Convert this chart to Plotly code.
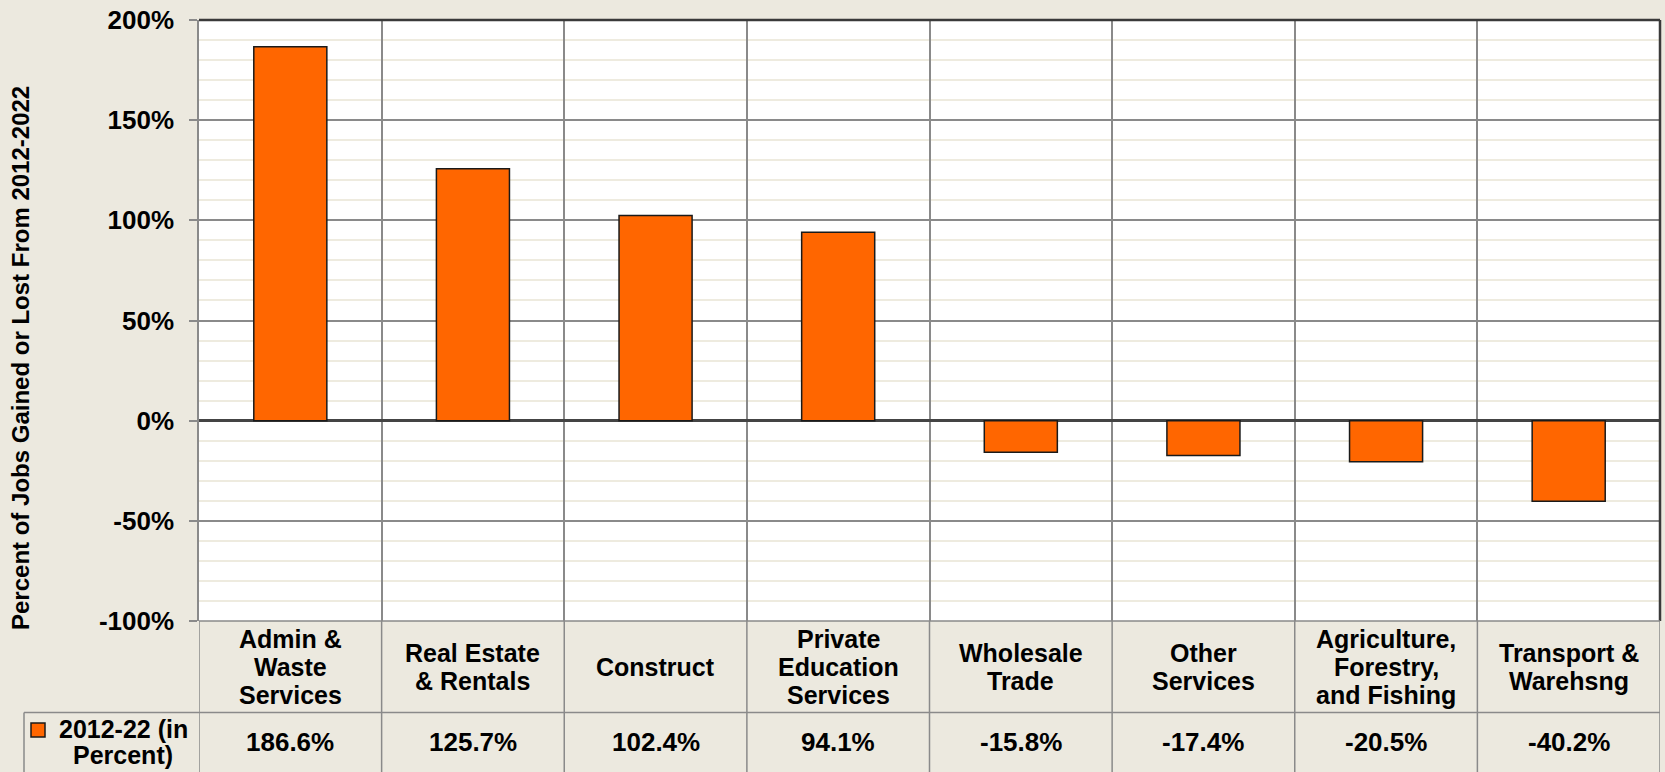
import plotly.graph_objects as go

categories = ["Admin &<br>Waste<br>Services", "Real Estate<br>& Rentals", "Construct",
              "Private<br>Education<br>Services", "Wholesale<br>Trade", "Other<br>Services",
              "Agriculture,<br>Forestry,<br>and Fishing", "Transport &<br>Warehsng"]
values = [186.6, 125.7, 102.4, 94.1, -15.8, -17.4, -20.5, -40.2]
series_name = "2012-22 (in<br>Percent)"
y_title = "Percent of Jobs Gained or Lost From 2012-2022"
y_ticks = [-100, -50, 0, 50, 100, 150, 200]

W, H = 1665, 772
L, R, T, B = 199, 1660, 20, 621
BG = "#ECE9DF"
FONT = "Arial, Liberation Sans, sans-serif"
ORANGE = "#FF6600"

def px(X):
    return (X - L) / (R - L)

def py(Y):
    return (B - Y) / (B - T)

fig = go.Figure()
fig.add_trace(go.Bar(x=list(range(len(categories))), y=values, name=series_name, width=0.4,
                     marker=dict(color=ORANGE, line=dict(color="#1a1a1a", width=1.5)),
                     showlegend=False))

fig.update_layout(
    width=W, height=H,
    margin=dict(l=L, r=W - R, t=T, b=H - B, pad=0),
    paper_bgcolor=BG, plot_bgcolor="white",
    font=dict(family=FONT, size=24, color="black"),
)
fig.update_xaxes(range=[-0.5, len(categories) - 0.5], tickmode="array",
                 tickvals=[i - 0.5 for i in range(len(categories) + 1)],
                 showticklabels=False, showgrid=True, gridcolor="#8a8a8a", gridwidth=1.5,
                 zeroline=False, showline=False, ticks="")
fig.update_yaxes(range=[-100, 200], tickmode="array", tickvals=y_ticks,
                 ticktext=["%d%%" % v for v in y_ticks],
                 tickfont=dict(family=FONT, size=26, color="black", weight="bold"),
                 showgrid=True, gridcolor="#8a8a8a", gridwidth=1.5,
                 minor=dict(tickmode="linear", tick0=0, dtick=10, showgrid=True,
                            gridcolor="#EEEBDF", gridwidth=1.5, ticks=""),
                 zeroline=True, zerolinecolor="#444444", zerolinewidth=2.5,
                 showline=True, linecolor="#8a8a8a", linewidth=1.5,
                 ticks="outside", ticklen=8, tickcolor="#8a8a8a", tickwidth=1.5,
                 ticklabelstandoff=10)

shapes = []
line_gray = dict(color="#8a8a8a", width=1.5)
shapes.append(dict(type="line", xref="paper", yref="paper", x0=0, x1=1, y0=1, y1=1,
                   line=dict(color="#3a3a3a", width=2.5)))
shapes.append(dict(type="line", xref="paper", yref="paper", x0=1, x1=1, y0=0, y1=1,
                   line=dict(color="#3a3a3a", width=2.5)))
n = len(categories)
for i in range(n + 1):
    shapes.append(dict(type="line", xref="x", yref="paper", x0=i - 0.5, x1=i - 0.5,
                       y0=0, y1=py(H), line=line_gray))
shapes.append(dict(type="line", xref="paper", yref="paper", x0=px(24), x1=1,
                   y0=py(712.5), y1=py(712.5), line=line_gray))
shapes.append(dict(type="line", xref="paper", yref="paper", x0=0, x1=1,
                   y0=0, y1=0, line=line_gray))
shapes.append(dict(type="line", xref="paper", yref="paper", x0=px(24), x1=px(24),
                   y0=py(712.5), y1=py(H), line=line_gray))
shapes.append(dict(type="rect", xref="paper", yref="paper", x0=px(31), x1=px(45),
                   y0=py(737), y1=py(723), fillcolor=ORANGE,
                   line=dict(color="#1a1a1a", width=1.5)))
fig.update_layout(shapes=shapes)

ann = []
def add_lines(text, xref, x, ycenter, spacing, size):
    lines = text.split("<br>")
    k = len(lines)
    for j, ln in enumerate(lines):
        yc = ycenter + (j - (k - 1) / 2) * spacing
        ann.append(dict(x=x, y=py(yc), xref=xref, yref="paper", text="<b>%s</b>" % ln,
                        showarrow=False, xanchor="center", yanchor="middle",
                        font=dict(size=size, family=FONT, color="black")))

for i, c in enumerate(categories):
    add_lines(c, "x", i, 667, 28, 25)
    add_lines("%.1f%%" % values[i], "x", i, 742, 28, 26)
add_lines(series_name, "paper", px(123), 742, 26, 25)
ann.append(dict(x=px(21), y=py(358), xref="paper", yref="paper", text="<b>%s</b>" % y_title,
                showarrow=False, xanchor="center", yanchor="middle", textangle=-90,
                font=dict(size=24, family=FONT, color="black")))
fig.update_layout(annotations=ann)

fig.write_html("out.html", config={"displayModeBar": False},
               post_script="document.body.style.margin='0';document.body.style.padding='0';"
                           "document.body.style.overflow='hidden';")
